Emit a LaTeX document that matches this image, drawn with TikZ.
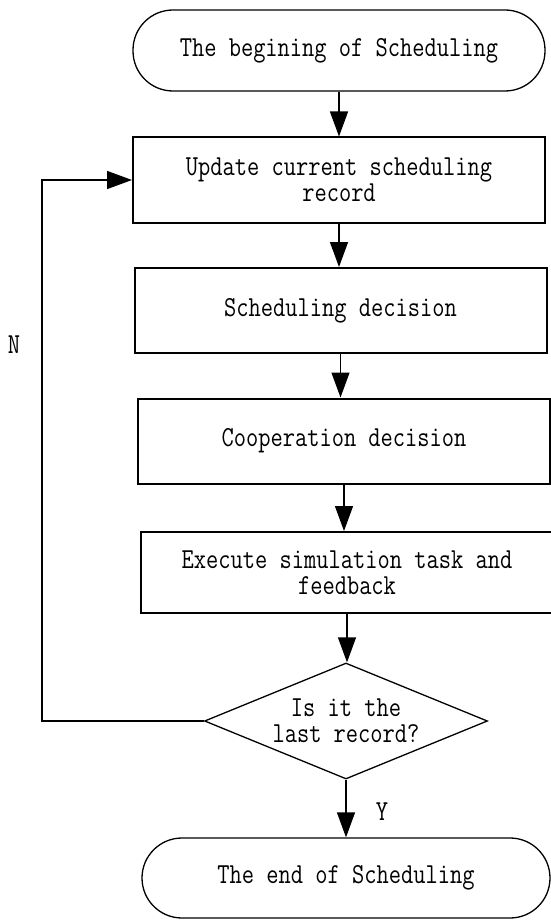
\documentclass[tikz,border=0pt]{standalone}
\usepackage{fontspec}
\usetikzlibrary{arrows.meta,shapes.geometric}
\newfontfamily\lmflow{Latin Modern Mono}[FakeStretch=0.82]
\newcommand\flowfont{\lmflow\fontsize{29pt}{26pt}\selectfont}

\begin{document}
\begin{tikzpicture}[x=1pt,y=-1pt,every node/.style={font=\flowfont,align=center},
  term/.style={draw,line width=1.3pt,rounded corners=40pt,minimum width=412pt,minimum height=81pt},
  procbox/.style={draw,line width=2pt,minimum width=412pt,minimum height=85pt},
  judge/.style={draw,line width=1.3pt,diamond,aspect=2.44,minimum width=283pt,minimum height=116pt,inner sep=0pt},
  arr/.style={line width=1.3pt,-{Triangle[length=25pt,width=18pt]}}]
\useasboundingbox (0,0) rectangle (550,920);
\node[term] (begin) at (339,50.5) {The begining of Scheduling};
\node[procbox] (upd) at (339,180) {Update current scheduling\\record};
\node[procbox] (sched) at (340.5,310.5) {Scheduling decision};
\node[procbox] (coop) at (344,441) {Cooperation decision};
\node[procbox,minimum height=81pt] (exec) at (347,572.5) {Execute simulation task and\\feedback};
\node[judge] (last) at (346,721) {Is it the\\last record?};
\node[term,minimum width=408pt,minimum height=80pt] (finish) at (346,878) {The end of Scheduling};
\node (nlab) at (14,345) {N};
\node (ylab) at (382,812) {Y};
\foreach \a/\b in {begin/upd,upd/sched,sched/coop,coop/exec,exec/last,last/finish}
  \draw[arr] (\a.south) -- (\a.south |- \b.north);
\draw[arr] (last.west) -- ++(-162,0) |- (upd.west);
\end{tikzpicture}
\end{document}
